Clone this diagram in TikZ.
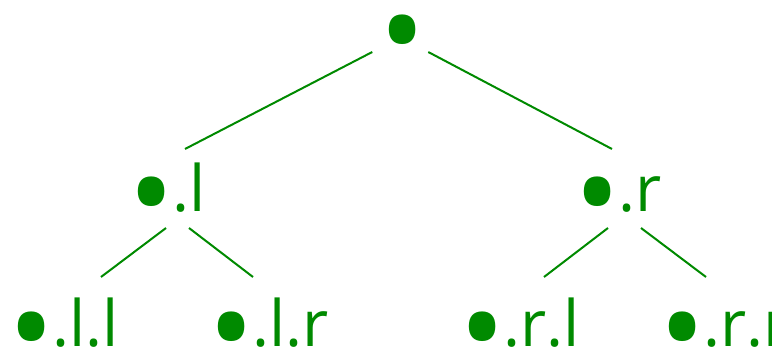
\documentclass[tikz,border=0pt]{standalone}
\usepackage{fontspec}
\setmainfont{Open Sans}
\definecolor{leaf}{RGB}{0,138,0}
% large bullet, centred in a fixed-width box, its middle about 21px above the baseline
\newcommand{\bul}{\makebox[31.5pt][c]{\fontsize{92}{92}\selectfont\raisebox{\dimexpr26.5pt-\height\relax}{•}}}
\begin{document}
\begin{tikzpicture}[x=0.75pt,y=-0.75pt,
  lbl/.style={text=leaf,inner sep=0pt,anchor=base west,font=\fontsize{48}{52}\selectfont},
  edge/.style={draw=leaf,line width=1.5pt}]
\useasboundingbox (0,0) rectangle (772,349);
\node[lbl] (root) at (381,50) {\bul};
\node[lbl] (l) at (130,212) {\bul.l};
\node[lbl] (r) at (576,212) {\bul.r};
\node[lbl] (ll) at (10,347) {\bul.l.l};
\node[lbl] (lr) at (210,347) {\bul.l.r};
\node[lbl] (rl) at (461,347) {\bul.r.l};
\node[lbl] (rr) at (661,347) {\bul.r.r};
\draw[edge] ([shift={(-30,2)}]root.base) -- ([shift={(55,-63)}]l.base west);
\draw[edge] ([shift={(26,2)}]root.base) -- ([shift={(36,-63)}]r.base west);
\draw[edge] ([shift={(36,16)}]l.base west) -- ([shift={(91,-70)}]ll.base west);
\draw[edge] ([shift={(59,16)}]l.base west) -- ([shift={(43,-70)}]lr.base west);
\draw[edge] ([shift={(32,16)}]r.base west) -- ([shift={(83,-70)}]rl.base west);
\draw[edge] ([shift={(65,16)}]r.base west) -- ([shift={(45,-70)}]rr.base west);
\end{tikzpicture}
\end{document}
